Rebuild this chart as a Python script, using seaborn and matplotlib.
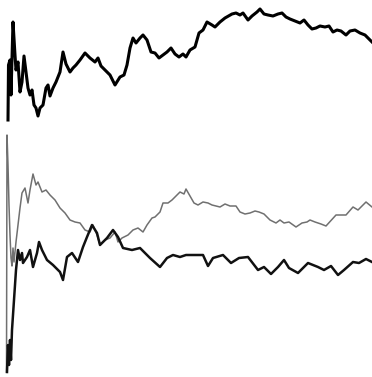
import matplotlib
matplotlib.use("Agg")
import matplotlib.pyplot as plt
import seaborn as sns

# Series A (top, thick black): step, level (read as pixel rows from top)
a_step = [8, 8.5, 10, 11, 13, 15, 16, 18, 20, 22, 24, 26, 28, 30, 32, 34, 36, 38, 40, 43, 46, 48, 50, 53, 56,
          60, 63, 66, 70, 73, 76, 80, 85, 90, 95, 98, 101, 105, 110, 115, 120, 124, 127, 130, 133, 136, 140,
          143, 147, 151, 155, 159, 163, 167, 171, 175, 179, 183, 186, 190, 195, 199, 203, 207, 212, 215, 220,
          225, 232, 236, 240, 243, 248, 252, 257, 260, 264, 268, 273, 278, 282, 286, 290, 295, 300, 304, 308,
          312, 316, 320, 325, 329, 333, 337, 341, 346, 350, 355, 360, 365, 368, 372]
a_pix = [120, 65, 60, 95, 22, 55, 70, 62, 92, 82, 56, 72, 88, 95, 90, 105, 108, 116, 108, 105, 88, 85, 96, 88, 82,
         72, 52, 64, 72, 68, 65, 60, 53, 58, 62, 58, 66, 70, 75, 85, 77, 75, 65, 48, 38, 43, 38,
         35, 40, 52, 53, 58, 55, 52, 48, 54, 57, 54, 57, 50, 47, 33, 30, 22, 25, 27, 22,
         18, 14, 13, 15, 13, 20, 16, 12, 9, 14, 15, 16, 14, 13, 17, 19, 21, 23, 20, 25,
         29, 28, 26, 27, 26, 32, 30, 31, 35, 31, 30, 33, 35, 38, 42]

# Series B (middle, grey)
b_step = [6.5, 7, 8, 9, 10, 11, 12, 13, 14, 16, 18, 20, 22, 25, 28, 30, 33, 36, 38, 42, 46, 50, 55, 60, 65, 70,
          75, 80, 85, 90, 93, 97, 100, 105, 110, 115, 118, 122, 128, 133, 138, 143, 147, 152, 155, 160, 163,
          168, 172, 176, 180, 184, 186, 190, 194, 198, 203, 208, 212, 220, 225, 230, 236, 240, 245, 250, 255,
          259, 264, 270, 276, 280, 284, 289, 296, 302, 307, 310, 315, 321, 326, 336, 346, 353, 358, 366, 372]
b_pix = [372, 135, 165, 205, 235, 258, 266, 248, 262, 242, 225, 208, 193, 188, 203, 190, 174, 185, 182, 192, 190,
         195, 200, 208, 213, 220, 222, 223, 230, 232, 225, 235, 245, 240, 238, 232, 242, 238, 235, 230, 228,
         232, 225, 218, 217, 212, 203, 203, 200, 196, 192, 194, 189, 196, 203, 205, 202, 203, 205, 207, 204,
         206, 206, 212, 214, 213, 211, 212, 214, 220, 223, 220, 223, 222, 227, 223, 222, 220, 222, 224, 226,
         215, 215, 207, 210, 202, 207]

# Series C (bottom, black)
c_step = [7, 8, 9, 10, 11, 12, 14, 16, 18, 20, 22, 23, 27, 30, 33, 37, 39, 42, 47, 53, 60, 63, 67, 72, 78, 83,
          87, 92, 97, 100, 107, 113, 118, 123, 132, 140, 150, 160, 167, 173, 180, 186, 196, 203, 208, 213,
          223, 231, 239, 248, 258, 264, 271, 278, 284, 289, 298, 308, 318, 324, 331, 338, 344, 353, 359, 366, 372]
c_pix = [372, 345, 365, 340, 360, 330, 300, 270, 250, 260, 253, 263, 257, 250, 267, 253, 242, 250, 260, 265, 272,
         280, 257, 253, 262, 247, 237, 225, 233, 245, 238, 230, 237, 248, 250, 248, 258, 267, 258, 255, 257,
         255, 255, 255, 266, 258, 255, 263, 258, 257, 270, 267, 274, 267, 260, 268, 273, 263, 267, 270, 266,
         275, 270, 262, 263, 259, 262]

TOP = 377
a_val = [TOP - p for p in a_pix]
b_val = [TOP - p for p in b_pix]
c_val = [TOP - p for p in c_pix]

fig = plt.figure(figsize=(3.72, 3.77), dpi=100)
ax = fig.add_axes([0, 0, 1, 1])
ax.set_facecolor("white")

sns.lineplot(x=b_step, y=b_val, ax=ax, color="#707070", linewidth=1.1, sort=False)
sns.lineplot(x=c_step, y=c_val, ax=ax, color="#111111", linewidth=1.8, sort=False)
sns.lineplot(x=a_step, y=a_val, ax=ax, color="black", linewidth=2.2, sort=False)

ax.set_xlim(0, 372)
ax.set_ylim(0, 377)
ax.axis("off")
fig.savefig("out.png", dpi=100, facecolor="white")
